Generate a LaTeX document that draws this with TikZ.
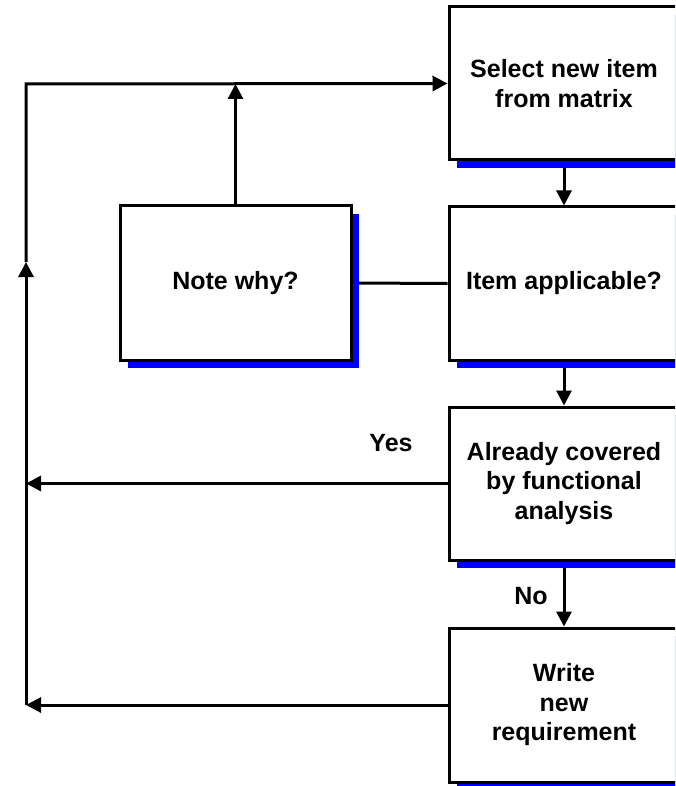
\documentclass[tikz,border=0pt]{standalone}
\usepackage{fontspec}
\setmainfont{Liberation Sans}
\usetikzlibrary{arrows.meta,shadows,backgrounds}
\begin{document}
\begin{tikzpicture}[x=1pt,y=-1pt,
  box/.style={draw=black, line width=3pt, fill=white, minimum width=230pt,
    minimum height=153pt, inner sep=0pt, align=center,
    font=\fontsize{25}{29.5}\selectfont\bfseries,
    drop shadow={shadow xshift=8pt, shadow yshift=-8pt, fill=blue, opacity=1}},
  conn/.style={line width=3pt, draw=black},
  arr/.style={conn, -{Triangle[length=15pt,width=15pt]}},
  lbl/.style={font=\fontsize{25}{29.5}\selectfont\bfseries}]
\useasboundingbox (0,0) rectangle (675,786);
\clip (0,0) rectangle (675,786);
\node[box] (sel) at (564,83.5) {Select new item\\from matrix};
\node[box] (app) at (564,283.5) {Item applicable?};
\node[box] (cov) at (564,483.5) {Already covered\\by functional\\analysis};
\node[box, minimum height=154pt] (wri) at (564,705) {Write\\new\\requirement};
\node[box, minimum width=231pt, minimum height=154pt] (why) at (235.5,283) {Note why?};
\node[lbl] (yes) at (391,443) {Yes};
\node[lbl] (no) at (531,596) {No};
\coordinate (ctop) at (26,84);
\coordinate (cmid) at (26,262);
\coordinate (cyes) at (26,483.5);
\coordinate (cbot) at (26,705);
\begin{pgfonlayer}{background}
\draw[arr] (sel.south) -- (app.north);
\draw[arr] (app.south) -- (cov.north);
\draw[arr] (cov.south) -- (wri.north);
\draw[conn] (why.east) -- (app.west);
\draw[arr] (why.north) -- (why.north |- ctop);
\draw[arr] (cov.west) -- (cyes);
\draw[arr] (wri.west) -- (cbot);
\draw[arr] (cbot) -- (cmid);
\draw[arr] (cmid) -- (ctop) -- (sel.west);
\end{pgfonlayer}
\end{tikzpicture}
\end{document}
